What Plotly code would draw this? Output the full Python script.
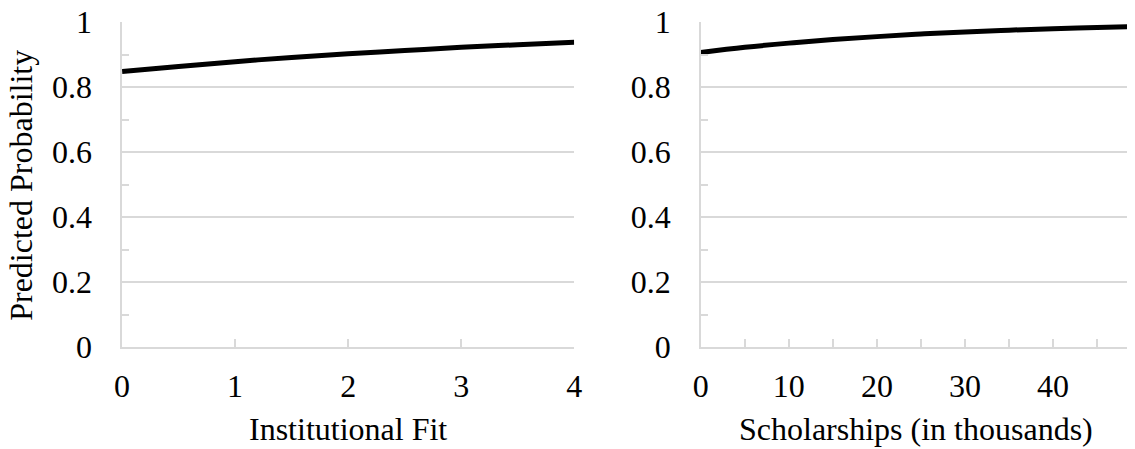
import plotly.graph_objects as go

# Data
fit_x = [0, 0.5, 1, 1.5, 2, 2.5, 3, 3.5, 4]
fit_p = [0.848, 0.863, 0.878, 0.891, 0.902, 0.912, 0.922, 0.930, 0.938]

sch_x = [0, 5, 10, 15, 20, 25, 30, 35, 40, 45, 50]
sch_p = [0.906, 0.922, 0.935, 0.946, 0.955, 0.963, 0.969, 0.975, 0.979, 0.983, 0.986]

y_title = "Predicted Probability"
x_title_left = "Institutional Fit"
x_title_right = "Scholarships (in thousands)"

W, H = 1135, 449
FONT = "Liberation Serif, Times New Roman, serif"
GRID = "#d9d9d9"
TICK_SIZE = 32
TITLE_SIZE = 32
T_MARGIN, B_MARGIN = 22, 102

fig = go.Figure()
fig.add_trace(go.Scatter(x=fit_x, y=fit_p, mode="lines",
                         line=dict(color="black", width=5, shape="spline"),
                         xaxis="x", yaxis="y", showlegend=False, hoverinfo="skip"))
fig.add_trace(go.Scatter(x=sch_x, y=sch_p, mode="lines",
                         line=dict(color="black", width=5, shape="spline"),
                         xaxis="x2", yaxis="y2", showlegend=False, hoverinfo="skip"))

left_dom = [115.7 / W, 574.3 / W]
right_dom = [702.7 / W, 1.0]

yaxis_common = dict(
    range=[0, 1], dtick=0.2, tick0=0,
    showgrid=True, gridcolor=GRID, gridwidth=1.5,
    showline=True, linecolor=GRID, linewidth=1.5,
    ticks="", zeroline=False,
    tickfont=dict(family=FONT, size=TICK_SIZE, color="black"),
    ticklabelstandoff=22,
    minor=dict(dtick=0.1, ticks="inside", ticklen=7, tickcolor=GRID, tickwidth=1.5, showgrid=False),
)

xtick_common = dict(
    showgrid=False, showline=True, linecolor=GRID, linewidth=1.5,
    ticks="inside", ticklen=8, tickcolor=GRID, tickwidth=1.5,
    zeroline=False, ticklabelstandoff=10,
    tickfont=dict(family=FONT, size=TICK_SIZE, color="black"),
)

fig.update_layout(
    width=W, height=H,
    margin=dict(l=0, r=0, t=T_MARGIN, b=B_MARGIN),
    paper_bgcolor="white", plot_bgcolor="white",
    font=dict(family=FONT, color="black"),
    xaxis=dict(domain=left_dom, anchor="y", range=[0, 4], dtick=1, tick0=0, **xtick_common),
    yaxis=dict(domain=[0, 1], anchor="x", **yaxis_common),
    xaxis2=dict(domain=right_dom, anchor="y2", range=[0, 48.4], dtick=10, tick0=0,
                minor=dict(dtick=5, ticks="inside", ticklen=8, tickcolor=GRID, tickwidth=1.5, showgrid=False),
                **xtick_common),
    yaxis2=dict(domain=[0, 1], anchor="x2", **yaxis_common),
)


def px_x(p):
    return p / W


def px_y(p):
    return (H - B_MARGIN - p) / (H - T_MARGIN - B_MARGIN)


fig.add_annotation(text=x_title_left, xref="paper", yref="paper",
                   x=(left_dom[0] + left_dom[1]) / 2, y=px_y(429),
                   xanchor="center", yanchor="middle", showarrow=False,
                   font=dict(family=FONT, size=TITLE_SIZE, color="black"))
fig.add_annotation(text=x_title_right, xref="paper", yref="paper",
                   x=px_x(921), y=px_y(429),
                   xanchor="center", yanchor="middle", showarrow=False,
                   font=dict(family=FONT, size=TITLE_SIZE, color="black"))
fig.add_annotation(text=y_title, xref="paper", yref="paper",
                   x=px_x(13), y=px_y(185), textangle=-90,
                   xanchor="center", yanchor="middle", showarrow=False,
                   font=dict(family=FONT, size=TITLE_SIZE, color="black"))

fig.write_html("out.html", config={"displayModeBar": False},
               post_script="document.body.style.margin='0';")
